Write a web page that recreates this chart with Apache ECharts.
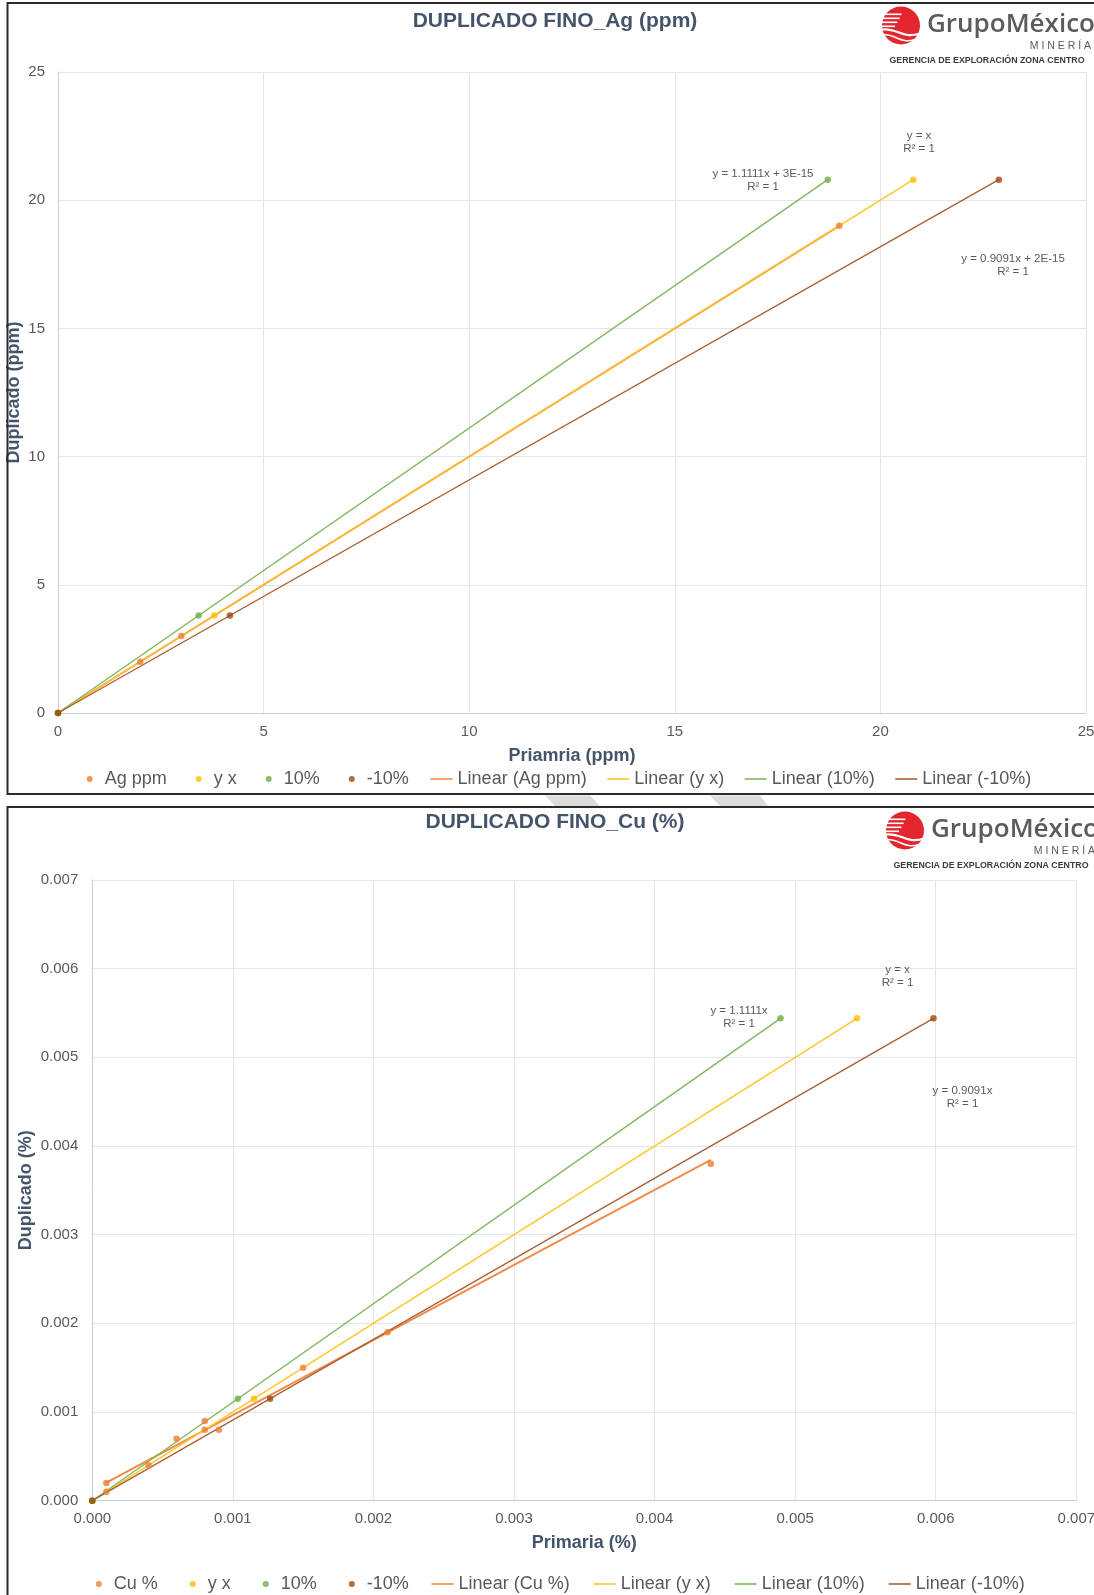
<!DOCTYPE html>
<html><head><meta charset="utf-8">
<script src="https://cdn.jsdelivr.net/npm/echarts@6/dist/echarts.min.js"></script>
<style>html,body{margin:0;padding:0;background:#fff;overflow:hidden}#c{width:1094px;height:1595px}</style>
</head><body><div id="c"></div>
<script>
// ---------- DATA: Ag chart ----------
const agPrim = [0, 2, 3, 19];
const agDup  = [0, 2, 3, 19];
const agYxX  = [0, 3.8, 20.8];
const agYxY  = [0, 3.8, 20.8];
const agP10X = [0, 3.42, 18.72];
const agP10Y = [0, 3.8, 20.8];
const agM10X = [0, 4.18, 22.88];
const agM10Y = [0, 3.8, 20.8];
const agAxis = [0, 25, 5];           // min, max, interval
const agEq   = ['y = 1.1111x + 3E-15\nR² = 1', 'y = x\nR² = 1', 'y = 0.9091x + 2E-15\nR² = 1'];

// ---------- DATA: Cu chart ----------
const cuPrim = [0.0001, 0.0001, 0.0004, 0.0006, 0.0008, 0.0008, 0.0009, 0.0015, 0.0021, 0.0044];
const cuDup  = [0.0002, 0.0001, 0.0004, 0.0007, 0.0009, 0.0008, 0.0008, 0.0015, 0.0019, 0.0038];
const cuYxX  = [0, 0.00115, 0.00544];
const cuYxY  = [0, 0.00115, 0.00544];
const cuP10X = [0, 0.001035, 0.004896];
const cuP10Y = [0, 0.00115, 0.00544];
const cuM10X = [0, 0.001265, 0.005984];
const cuM10Y = [0, 0.00115, 0.00544];
const cuAxis = [0, 0.007, 0.001];
const cuEq   = ['y = 1.1111x\nR² = 1', 'y = x\nR² = 1', 'y = 0.9091x\nR² = 1'];

const titles = ['DUPLICADO FINO_Ag (ppm)', 'DUPLICADO FINO_Cu (%)'];
const xNames = ['Priamria (ppm)', 'Primaria (%)'];
const yNames = ['Duplicado (ppm)', 'Duplicado (%)'];
const mainNames = ['Ag ppm', 'Cu %'];

// ---------- helpers ----------
const zip = (a, b) => a.map((v, i) => [v, b[i]]);
function trend(xs, ys) { // least-squares line over data range (Excel "Linear" trendline)
  const n = xs.length, mx = xs.reduce((s, v) => s + v, 0) / n, my = ys.reduce((s, v) => s + v, 0) / n;
  let sxy = 0, sxx = 0;
  xs.forEach((x, i) => { sxy += (x - mx) * (ys[i] - my); sxx += (x - mx) * (x - mx); });
  const b = sxy / sxx, a = my - b * mx;
  const lo = Math.min(...xs), hi = Math.max(...xs);
  return [[lo, a + b * lo], [hi, a + b * hi]];
}
const C = { main: '#ED7D31', yx: '#FFC000', p10: '#70AD47', m10: '#9E480E' };
const L = { main: '#F08A48', yx: '#FFC524', p10: '#80B85A', m10: '#AC6034' };
const TXT = '#595959', HEAD = '#44546A';

function seriesFor(idx, mainName, mx, my, yx, yy, px, py, nx, ny) {
  const line = (name, xs, ys, color, z, w) => ({
    name, type: 'line', xAxisIndex: idx, yAxisIndex: idx, data: trend(xs, ys),
    symbol: 'none', showSymbol: false, lineStyle: { color, width: w }, itemStyle: { color }, z, silent: true, animation: false
  });
  const pts = (name, xs, ys, color) => ({
    name, type: 'scatter', xAxisIndex: idx, yAxisIndex: idx, data: zip(xs, ys),
    symbol: 'circle', symbolSize: 6.5, itemStyle: { color }, z: 5, animation: false
  });
  return [
    line('Linear (' + mainName + ')', mx, my, L.main, 2, 1.9),
    line('Linear (y x)', yx, yy, L.yx, 3, 1.4),
    line('Linear (10%)', px, py, L.p10, 3, 1.4),
    line('Linear (-10%)', nx, ny, L.m10, 3, 1.4),
    pts(mainName, mx, my, C.main),
    pts('y x', yx, yy, C.yx),
    pts('10%', px, py, C.p10),
    pts('-10%', nx, ny, C.m10)
  ];
}

function axisBase(ax, fmt, margin) {
  return {
    type: 'value', min: ax[0], max: ax[1], interval: ax[2],
    axisLine: { show: true, lineStyle: { color: '#c5cdd9', width: 1 } },
    axisTick: { show: false },
    splitLine: { show: true, lineStyle: { color: '#e2e6ed', width: 1 } },
    axisLabel: { color: TXT, fontSize: 15, margin, fontFamily: 'Liberation Sans, Arial, sans-serif', formatter: fmt,
      showMinLabel: true, showMaxLabel: true, hideOverlap: false },
    nameLocation: 'middle',
    nameMoveOverlap: false,
    nameTextStyle: { color: HEAD, fontSize: 18, fontWeight: 'bold', fontFamily: 'Liberation Sans, Arial, sans-serif' }
  };
}
const fmtAg = v => String(v);
const fmtCu = v => v.toFixed(3);

function legends(top, leftDots, leftLines, names, gapDots, gapLines) {
  const ts = { color: TXT, fontSize: 18, fontFamily: 'Liberation Sans, Arial, sans-serif', lineHeight: 20 };
  return [
    { left: leftDots, top, padding: 0, itemWidth: 20, itemHeight: 6, itemGap: gapDots, textStyle: ts, selectedMode: false,
      data: [names[0], 'y x', '10%', '-10%'].map(n => ({ name: n, icon: 'circle' })) },
    { left: leftLines, top, padding: 0, itemWidth: 22, itemHeight: 1.6, itemGap: gapLines, textStyle: ts, selectedMode: false,
      data: ['Linear (' + names[0] + ')', 'Linear (y x)', 'Linear (10%)', 'Linear (-10%)'].map(n => ({ name: n, icon: 'rect' })) }
  ];
}

// ---------- graphics: borders, logo, labels ----------
function logo(x0, y0) {
  const els = [];
  const r = 19, cx = x0 + 19, cy = y0 + 19.5, red = '#E3262D';
  els.push({ type: 'circle', shape: { cx, cy, r }, style: { fill: red }, silent: true });
  const stripes = [-12, -8, -4, 0];
  stripes.forEach((dy, i) => {
    const half = Math.sqrt(r * r - dy * dy);
    els.push({ type: 'rect', shape: { x: cx - half - 1, y: cy + dy, width: half * (1.1 - i * 0.12), height: 1.6 },
      style: { fill: '#fff' }, silent: true });
  });
  els.push({ type: 'bezierCurve', shape: { x1: cx - r, y1: cy + 4, cpx1: cx - 4, cpy1: cy + 2, cpx2: cx + 2, cpy2: cy + 14, x2: cx + r, y2: cy + 8 },
    style: { stroke: '#fff', lineWidth: 2.2, fill: null }, silent: true });
  els.push({ type: 'bezierCurve', shape: { x1: cx - r, y1: cy + 9, cpx1: cx - 6, cpy1: cy + 8, cpx2: cx, cpy2: cy + 19, x2: cx + 14, y2: cy + 14 },
    style: { stroke: '#fff', lineWidth: 1.6, fill: null }, silent: true });
  els.push({ type: 'text', x: x0 + 45, y: y0 + 19, style: { text: 'GrupoMéxico', fill: '#5a5b5d', fontSize: 26, fontWeight: 600,
    fontFamily: 'Open Sans, Liberation Sans, sans-serif', verticalAlign: 'middle', align: 'left' }, silent: true });
  els.push({ type: 'text', x: x0 + 209, y: y0 + 40, style: { text: 'M I N E R Í A', fill: '#58595B', fontSize: 10.5,
    fontFamily: 'Liberation Sans, Arial, sans-serif', verticalAlign: 'middle', align: 'right' }, silent: true });
  els.push({ type: 'text', x: x0 + 105, y: y0 + 55, style: { text: 'GERENCIA DE EXPLORACIÓN ZONA CENTRO', fill: '#3a3a3a', fontSize: 8.8,
    fontWeight: 'bold', fontFamily: 'Liberation Sans Narrow, Liberation Sans, Arial, sans-serif', verticalAlign: 'middle', align: 'center' }, silent: true });
  return els;
}
function eqLabel(x, y, text) {
  return { type: 'text', x, y, z: 10, style: { text, fill: TXT, fontSize: 11.5, lineHeight: 13, align: 'center', verticalAlign: 'middle',
    fontFamily: 'Liberation Sans, Arial, sans-serif' }, silent: true };
}

const graphic = [
  { type: 'rect', shape: { x: 7.5, y: 3, width: 1110, height: 791 }, style: { fill: null, stroke: '#2b2b2b', lineWidth: 2 }, silent: true, z: 20 },
  { type: 'rect', shape: { x: 7.5, y: 807, width: 1110, height: 820 }, style: { fill: null, stroke: '#2b2b2b', lineWidth: 2 }, silent: true, z: 20 },
  { type: 'polygon', shape: { points: [[545, 795.5], [590, 795.5], [600, 806], [555, 806]] }, style: { fill: '#dcdcdc' }, silent: true },
  { type: 'polygon', shape: { points: [[710, 795.5], [760, 795.5], [768, 806], [720, 806]] }, style: { fill: '#dcdcdc' }, silent: true },
  ...logo(882, 6),
  ...logo(886, 811),
  eqLabel(763, 180.5, agEq[0]), eqLabel(919, 142.7, agEq[1]), eqLabel(1013, 265.7, agEq[2]),
  eqLabel(739, 1017.5, cuEq[0]), eqLabel(897.5, 976.5, cuEq[1]), eqLabel(962.5, 1097, cuEq[2])
];

const titleStyle = { color: HEAD, fontSize: 21, fontWeight: 'bold', fontFamily: 'Liberation Sans, Arial, sans-serif', lineHeight: 24 };

const option = {
  backgroundColor: '#fff',
  animation: false,
  title: [
    { text: titles[0], left: 555, top: 9.5, textAlign: 'center', padding: 0, textStyle: titleStyle },
    { text: titles[1], left: 555, top: 810, textAlign: 'center', padding: 0, textStyle: titleStyle }
  ],
  legend: [...legends(769, 86.7, 430.6, [mainNames[0]], 29, 20.5), ...legends(1574, 95.8, 431.6, [mainNames[1]], 32, 24)],
  grid: [
    { left: 58, top: 72, width: 1028, height: 641, containLabel: false, outerBoundsMode: 'none' },
    { left: 92.3, top: 880, width: 984, height: 620.7, containLabel: false, outerBoundsMode: 'none' }
  ],
  xAxis: [
    Object.assign(axisBase(agAxis, fmtAg, 11), { gridIndex: 0, name: xNames[0], nameGap: 34 }),
    Object.assign(axisBase(cuAxis, fmtCu, 11), { gridIndex: 1, name: xNames[1], nameGap: 33 })
  ],
  yAxis: [
    Object.assign(axisBase(agAxis, fmtAg, 13), { gridIndex: 0, name: yNames[0], nameGap: 35 }),
    Object.assign(axisBase(cuAxis, fmtCu, 14), { gridIndex: 1, name: yNames[1], nameGap: 57 })
  ],
  series: [
    ...seriesFor(0, mainNames[0], agPrim, agDup, agYxX, agYxY, agP10X, agP10Y, agM10X, agM10Y),
    ...seriesFor(1, mainNames[1], cuPrim, cuDup, cuYxX, cuYxY, cuP10X, cuP10Y, cuM10X, cuM10Y)
  ],
  graphic
};
const chart = echarts.init(document.getElementById('c'), null, { renderer: 'canvas' });
chart.setOption(option);
</script>
</body></html>
